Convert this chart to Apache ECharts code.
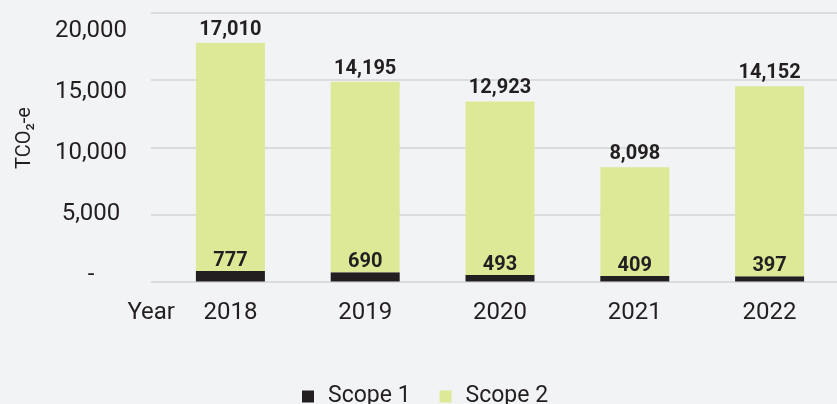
<!DOCTYPE html>
<html>
<head>
<meta charset="utf-8">
<script src="https://cdn.jsdelivr.net/npm/echarts@6/dist/echarts.min.js"></script>
<style>
  html, body { margin: 0; padding: 0; background: #f2f3f5; }
  #chart { width: 837px; height: 404px; }
</style>
</head>
<body>
<div id="chart"></div>
<script>
const years = ['2018', '2019', '2020', '2021', '2022'];
const scope1 = [777, 690, 493, 409, 397];
const scope2 = [17010, 14195, 12923, 8098, 14152];
const yMin = 0;
const yMax = 20000;
const yStep = 5000;

const dark = '#231f20';
const green = '#dde997';
const gridColor = '#d3d4d6';
const fmt = v => v === 0 ? '-' : Number(v).toLocaleString('en-US');

const chart = echarts.init(document.getElementById('chart'));

const option = {
  animation: false,
  backgroundColor: '#f2f3f5',
  textStyle: { fontFamily: 'Roboto' },
  grid: [
    // bars
    { left: 163, right: 0, top: 13, height: 268.5 },
    // gridline stub left of the plot
    { left: 151, width: 12, top: 13, height: 268.5 },
    // tick labels (they sit on their own spacing in the original)
    { left: 163, right: 0, top: 31, height: 244 }
  ],
  xAxis: [
    {
      gridIndex: 0,
      type: 'category',
      data: years,
      axisLine: { show: false },
      axisTick: { show: false },
      axisLabel: { color: dark, fontSize: 24, margin: 19 },
      name: 'Year',
      nameLocation: 'start',
      nameGap: -12,
      nameTextStyle: { color: dark, fontSize: 24, verticalAlign: 'top', padding: [19, 0, 0, 0] }
    },
    { gridIndex: 1, type: 'category', data: [''], show: false },
    { gridIndex: 2, type: 'category', data: years, show: false }
  ],
  yAxis: [
    {
      gridIndex: 0,
      type: 'value',
      min: yMin, max: yMax, interval: yStep,
      axisLine: { show: false },
      axisTick: { show: false },
      axisLabel: { show: false },
      splitLine: { lineStyle: { color: gridColor, width: 1.5 } }
    },
    {
      gridIndex: 1,
      type: 'value',
      min: yMin, max: yMax, interval: yStep,
      axisLine: { show: false },
      axisTick: { show: false },
      axisLabel: { show: false },
      splitLine: { lineStyle: { color: gridColor, width: 1.5 } }
    },
    {
      gridIndex: 2,
      type: 'value',
      min: yMin, max: yMax, interval: yStep,
      axisLine: { show: false },
      axisTick: { show: false },
      splitLine: { show: false },
      axisLabel: {
        color: dark, fontSize: 24, align: 'center', margin: 72,
        formatter: fmt
      }
    }
  ],
  graphic: [
    {
      type: 'text',
      x: 25, y: 138,
      rotation: Math.PI / 2,
      style: {
        text: 'TCO₂-e',
        font: '20px Roboto',
        fill: dark,
        align: 'center',
        verticalAlign: 'middle'
      }
    }
  ],
  legend: {
    left: 302,
    top: 385,
    padding: 0,
    icon: 'rect',
    itemWidth: 12,
    itemHeight: 12,
    itemGap: 29,
    textStyle: { color: dark, fontSize: 23, padding: [0, 0, 0, 9] },
    data: ['Scope 1', 'Scope 2']
  },
  series: [
    {
      name: 'Scope 1',
      type: 'bar',
      stack: 'total',
      xAxisIndex: 0, yAxisIndex: 0,
      barWidth: 69,
      itemStyle: { color: dark },
      label: {
        show: true, position: 'top', distance: 0,
        color: dark, fontSize: 20, fontWeight: 'bold',
        formatter: p => fmt(p.value)
      },
      data: scope1
    },
    {
      name: 'Scope 2',
      type: 'bar',
      stack: 'total',
      xAxisIndex: 0, yAxisIndex: 0,
      barWidth: 69,
      itemStyle: { color: green },
      label: {
        show: true, position: 'top', distance: 3,
        color: dark, fontSize: 20, fontWeight: 'bold',
        formatter: p => fmt(p.value)
      },
      data: scope2
    }
  ]
};

chart.setOption(option);
</script>
</body>
</html>
